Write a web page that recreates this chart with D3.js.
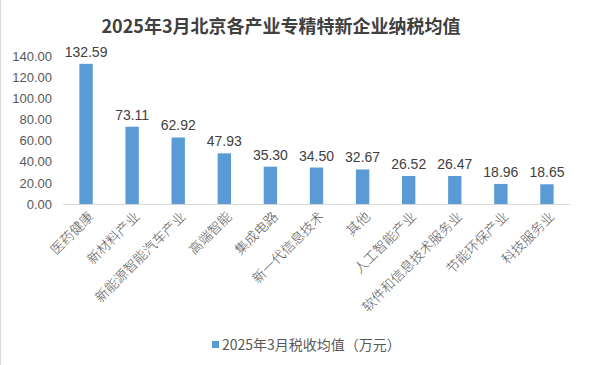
<!DOCTYPE html>
<html><head><meta charset="utf-8">
<script src="https://cdn.jsdelivr.net/npm/d3@7"></script>
<style>body{margin:0;background:#fff;}svg{display:block;}</style>
</head><body>
<svg id="c" width="601" height="365"></svg>
<script>
const title = "2025年3月北京各产业专精特新企业纳税均值";
const categories = ["医药健康","新材料产业","新能源智能汽车产业","高端智能","集成电路","新一代信息技术","其他","人工智能产业","软件和信息技术服务业","节能环保产业","科技服务业"];
const values = [132.59,73.11,62.92,47.93,35.30,34.50,32.67,26.52,26.47,18.96,18.65];
const yTicks = [0,20,40,60,80,100,120,140];
const seriesName = "2025年3月税收均值（万元）";

const svg = d3.select("#c");
svg.append("rect").attr("width",601).attr("height",365).attr("fill","#fff");
svg.append("line").attr("x1",0.5).attr("x2",0.5).attr("y1",0).attr("y2",365).attr("stroke","#d9d9d9");

const x = d3.scaleBand().domain(categories).range([63,570]).paddingInner(0.71).paddingOuter(0.355);
const y = d3.scaleLinear().domain([0,140]).range([204,56]);

svg.append("text").attr("x",281).attr("y",33).attr("text-anchor","middle")
  .attr("font-family","'Noto Sans CJK SC', 'Noto Sans', sans-serif").attr("font-weight","bold")
  .attr("font-size",18).attr("fill","#404040").text(title);

const ya = svg.append("g").attr("transform","translate(52,0)")
  .call(d3.axisLeft(y).tickValues(yTicks).tickSize(0).tickPadding(0).tickFormat(d3.format(".2f")));
ya.select(".domain").remove();
ya.selectAll("text").attr("font-family","'Liberation Sans', 'Open Sans', sans-serif").attr("font-size",13).attr("fill","#595959");

svg.append("line").attr("x1",63).attr("x2",570).attr("y1",y(0)+0.5).attr("y2",y(0)+0.5).attr("stroke","#d9d9d9").attr("stroke-width",1);

svg.selectAll("rect.bar").data(values).enter().append("rect").attr("class","bar")
  .attr("x",(d,i)=>x(categories[i])).attr("width",x.bandwidth())
  .attr("y",d=>y(d)).attr("height",d=>y(0)-y(d)).attr("fill","#5b9bd5");

svg.selectAll("text.val").data(values).enter().append("text").attr("class","val")
  .attr("x",(d,i)=>x(categories[i])+x.bandwidth()/2).attr("y",d=>y(d)-7)
  .attr("text-anchor","middle").attr("font-family","'Liberation Sans', 'Open Sans', sans-serif")
  .attr("font-size",14).attr("fill","#404040").text(d=>d.toFixed(2));

svg.selectAll("text.cat").data(categories).enter().append("text").attr("class","cat")
  .attr("transform",d=>`translate(${x(d)+x.bandwidth()/2+5},${214}) rotate(-45)`)
  .attr("text-anchor","end").attr("dy","0.35em")
  .attr("font-family","'Noto Sans CJK SC', sans-serif").attr("font-weight",300)
  .attr("font-size",13.5).attr("fill","#595959").text(d=>d);

const lg = svg.append("g");
lg.append("rect").attr("x",212).attr("y",341).attr("width",7).attr("height",7).attr("fill","#5b9bd5");
lg.append("text").attr("x",222).attr("y",350).attr("font-family","'Noto Sans CJK SC', sans-serif")
  .attr("font-size",14).attr("fill","#595959").text(seriesName);
</script>
</body></html>
